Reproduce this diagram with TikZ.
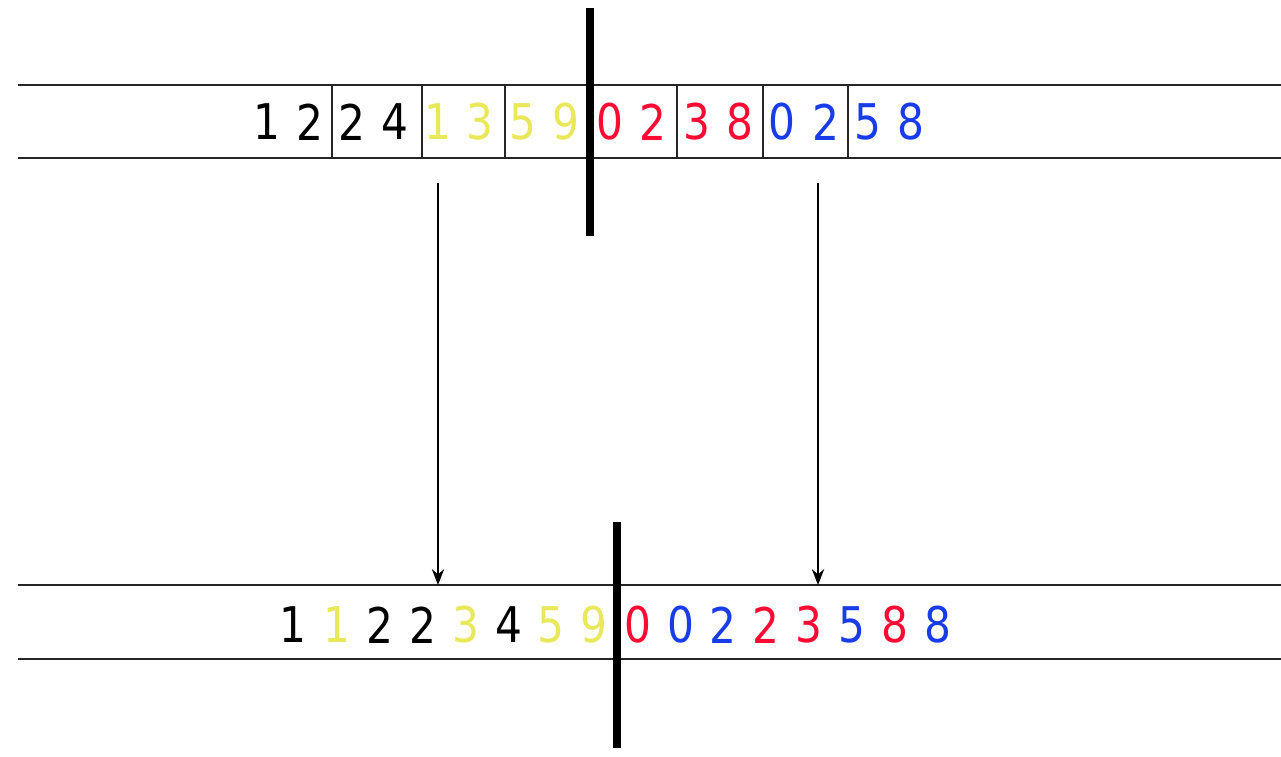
\documentclass[tikz,border=0pt]{standalone}
\usepackage{xcolor}
\usepackage{fontspec}
\setmainfont{DejaVu Sans}
\newfontfamily\digitfont{DejaVu Sans}[FakeStretch=0.86]
\usepackage{tikz}
\usetikzlibrary{positioning,arrows.meta}

\definecolor{runblack}{RGB}{0,0,0}
\definecolor{runyellow}{RGB}{232,232,90}
\definecolor{runred}{RGB}{255,10,50}
\definecolor{runblue}{RGB}{25,60,235}

\begin{document}
\begin{tikzpicture}[x=0.02cm, y=-0.02cm,
    band/.style={line width=0.8pt, black!85},
    sep/.style={line width=0.7pt, black!85},
    cut/.style={line width=4.4pt, black},
    digit/.style={inner sep=0pt, font=\digitfont\fontsize{28}{32}\selectfont},
    merge/.style={-{Stealth[length=9pt,width=7pt]}, line width=1.1pt}]

    \useasboundingbox (0,0) rectangle (1281,757);

    \draw [band] (18,85) -- (1281,85);
    \draw [band] (18,158) -- (1281,158);
    \draw [band] (18,585) -- (1281,585);
    \draw [band] (18,659) -- (1281,659);

    \foreach \x in {332,422,505,677,763,848}
        \draw [sep] (\x,85) -- (\x,158);

    \foreach \x/\d/\c [count=\i] in {267/1/runblack, 310/2/runblack, 352/2/runblack, 395/4/runblack,
        438/1/runyellow, 480/3/runyellow, 523/5/runyellow, 566/9/runyellow,
        610/0/runred, 653/2/runred, 697/3/runred, 740/8/runred,
        782/0/runblue, 826/2/runblue, 868/5/runblue, 911/8/runblue}
        \node [digit, text=\c] (top\i) at (\x,122) {\d};

    \foreach \x/\d/\c [count=\i] in {293/1/runblack, 337/1/runyellow, 380/2/runblack, 423/2/runblack,
        466/3/runyellow, 509/4/runblack, 551/5/runyellow, 594/9/runyellow,
        638/0/runred, 681/0/runblue, 723/2/runblue, 766/2/runred,
        809/3/runred, 852/5/runblue, 895/8/runred, 938/8/runblue}
        \node [digit, text=\c] (bot\i) at (\x,625) {\d};

    \draw [cut] (590,8) -- (590,236);
    \draw [cut] (617,522) -- (617,748);

    \coordinate (lsrc) at (438,183);
    \coordinate (ldst) at (438,585);
    \coordinate (rsrc) at (818,183);
    \coordinate (rdst) at (818,585);

    \draw [merge] (lsrc) -- (ldst);
    \draw [merge] (rsrc) -- (rdst);
\end{tikzpicture}
\end{document}
